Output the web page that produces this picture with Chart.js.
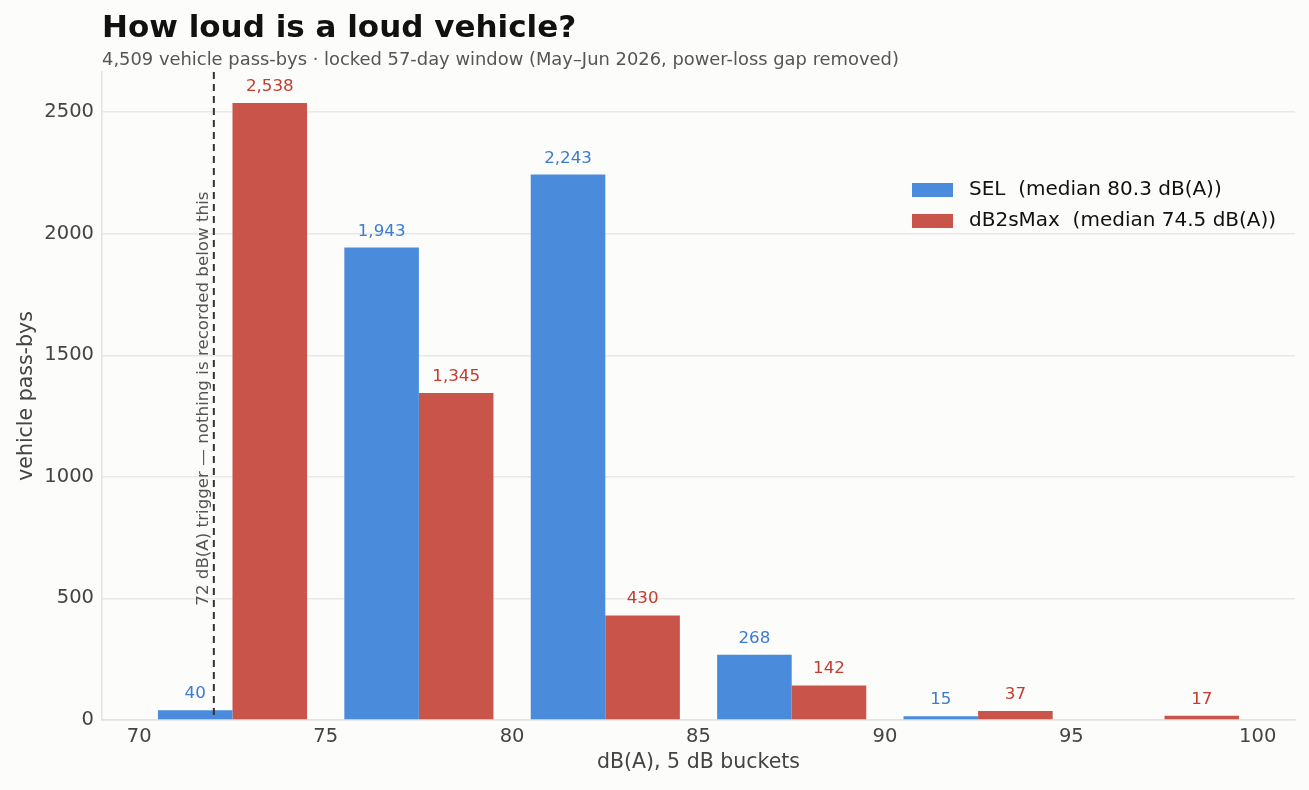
<!DOCTYPE html>
<html>
<head>
<meta charset="utf-8">
<script src="https://cdn.jsdelivr.net/npm/chart.js@4.4.1/dist/chart.umd.min.js"></script>
<style>
  html, body { margin: 0; padding: 0; background: #fcfcfa; }
  #wrap { width: 1309px; height: 790px; position: relative; }
</style>
</head>
<body>
<div id="wrap"><canvas id="loud"></canvas></div>
<script>
// bucket centres (5 dB buckets, 70-75 ... 95-100)
var bucketCentres = [72.5, 77.5, 82.5, 87.5, 92.5, 97.5];
var selCounts = [40, 1943, 2243, 268, 15, 0];
var maxCounts = [2538, 1345, 430, 142, 37, 17];
var xTicks = [70, 75, 80, 85, 90, 95, 100];
var yTicks = [0, 500, 1000, 1500, 2000, 2500];
var triggerDb = 72;

var FONT = "'DejaVu Sans', sans-serif";
var blueBar = '#4a8bdb', redBar = '#c9554a';
var blueTxt = '#3b7bd4', redTxt = '#c23d30';

function toPoints(vals) {
  return bucketCentres.map(function (x, i) { return { x: x, y: vals[i] }; });
}

var extras = {
  id: 'extras',
  beforeDraw: function (chart) {
    var ctx = chart.ctx;
    ctx.save();
    ctx.fillStyle = '#fcfcfa';
    ctx.fillRect(0, 0, chart.width, chart.height);
    ctx.restore();
  },
  afterDatasetsDraw: function (chart) {
    var ctx = chart.ctx;
    var area = chart.chartArea;
    var xs = chart.scales.x, ys = chart.scales.y;

    // trigger line
    var lx = xs.getPixelForValue(triggerDb);
    ctx.save();
    ctx.strokeStyle = '#333';
    ctx.lineWidth = 2;
    ctx.setLineDash([7, 5]);
    ctx.beginPath();
    ctx.moveTo(lx, area.top);
    ctx.lineTo(lx, area.bottom);
    ctx.stroke();
    ctx.setLineDash([]);

    // rotated note
    ctx.translate(lx - 6, ys.getPixelForValue(470));
    ctx.rotate(-Math.PI / 2);
    ctx.fillStyle = '#555';
    ctx.font = '16.7px ' + FONT;
    ctx.textAlign = 'left';
    ctx.textBaseline = 'alphabetic';
    ctx.fillText('72 dB(A) trigger \u2014 nothing is recorded below this', 0, 0);
    ctx.restore();

    // value labels
    ctx.save();
    ctx.font = '16.7px ' + FONT;
    ctx.textAlign = 'center';
    ctx.textBaseline = 'alphabetic';
    chart.data.datasets.forEach(function (ds, di) {
      var meta = chart.getDatasetMeta(di);
      ctx.fillStyle = ds.labelColor;
      meta.data.forEach(function (bar, i) {
        var v = ds.data[i].y;
        if (!v) return;
        ctx.fillText(v.toLocaleString('en-US'), bar.x, bar.y - 12);
      });
    });
    ctx.restore();
  },
  afterDraw: function (chart) {
    var ctx = chart.ctx;
    ctx.save();
    ctx.textAlign = 'left';
    ctx.textBaseline = 'alphabetic';
    ctx.fillStyle = '#111';
    ctx.font = 'bold 31px ' + FONT;
    ctx.fillText('How loud is a loud vehicle?', 102, 37);
    ctx.fillStyle = '#555';
    ctx.font = '17.9px ' + FONT;
    ctx.fillText('4,509 vehicle pass-bys \u00b7 locked 57-day window (May\u2013Jun 2026, power-loss gap removed)', 102, 65);

    // legend
    ctx.font = '20px ' + FONT;
    ctx.textBaseline = 'middle';
    chart.data.datasets.forEach(function (ds, di) {
      var y = 190 + di * 31;
      ctx.fillStyle = ds.backgroundColor;
      ctx.fillRect(912, y - 7, 41, 14);
      ctx.fillStyle = '#111';
      ctx.fillText(ds.label, 969, y);
    });
    ctx.restore();
  }
};

new Chart(document.getElementById('loud'), {
  type: 'bar',
  data: {
    datasets: [
      { label: 'SEL  (median 80.3 dB(A))', data: toPoints(selCounts),
        backgroundColor: blueBar, labelColor: blueTxt },
      { label: 'dB2sMax  (median 74.5 dB(A))', data: toPoints(maxCounts),
        backgroundColor: redBar, labelColor: redTxt }
    ]
  },
  plugins: [extras],
  options: {
    responsive: true,
    maintainAspectRatio: false,
    animation: false,
    categoryPercentage: 0.8,
    barPercentage: 1.0,
    layout: { padding: { top: 72, right: 14, left: 0, bottom: 0 } },
    plugins: {
      legend: { display: false },
      tooltip: { enabled: false },
      title: { display: false }
    },
    scales: {
      x: {
        type: 'linear',
        min: 69, max: 101,
        offset: false,
        afterBuildTicks: function (s) { s.ticks = xTicks.map(function (v) { return { value: v }; }); },
        afterFit: function (s) { s.height = 70; },
        grid: { display: false, offset: false, drawTicks: false },
        border: { display: true, color: '#e2e2e2', width: 1.5 },
        ticks: { color: '#444', font: { family: FONT, size: 19.5 }, padding: 5,
                 callback: function (v) { return String(v); } },
        title: { display: true, text: 'dB(A), 5 dB buckets', color: '#444',
                 font: { family: FONT, size: 20.5 }, padding: { top: 0, bottom: 15 } }
      },
      y: {
        min: 0, max: 2665,
        afterBuildTicks: function (s) { s.ticks = yTicks.map(function (v) { return { value: v }; }); },
        afterFit: function (s) { s.width = 102; },
        grid: { color: '#e8e8e8', lineWidth: 1.5, drawTicks: false },
        border: { display: true, color: '#e2e2e2', width: 1.5 },
        ticks: { color: '#444', font: { family: FONT, size: 19.5 }, padding: 8,
                 callback: function (v) { return String(v); } },
        title: { display: true, text: 'vehicle pass-bys', color: '#444',
                 font: { family: FONT, size: 20.5 }, padding: { top: 14, bottom: 0 } }
      }
    }
  }
});
</script>
</body>
</html>
